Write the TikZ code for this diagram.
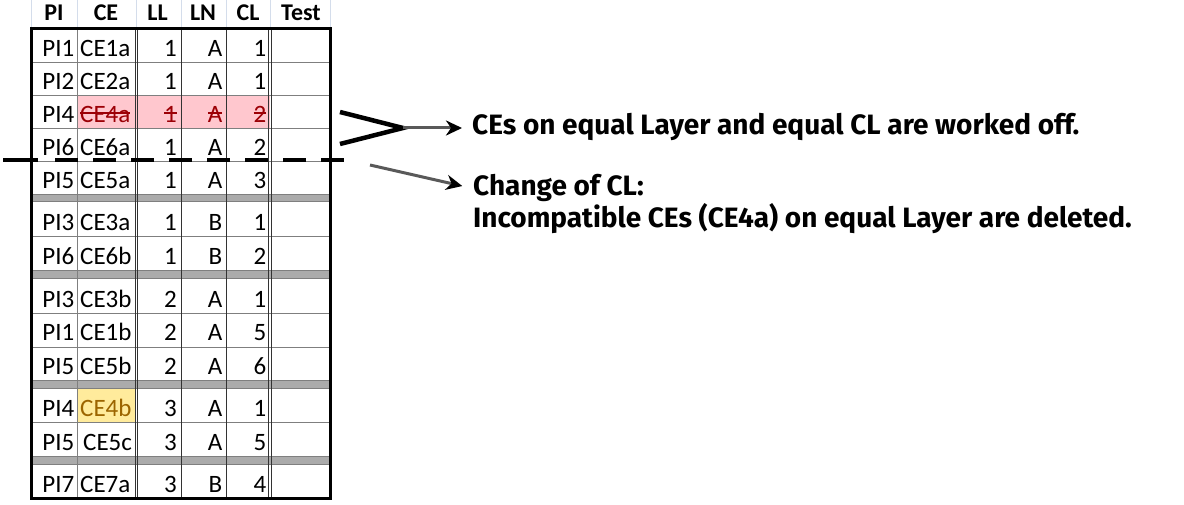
\documentclass[tikz,border=0pt]{standalone}
\usepackage{fontspec}
\setmainfont{Carlito}
\newfontfamily\notefont{Fira Sans}
\usetikzlibrary{arrows.meta}

\definecolor{badfill}{HTML}{FFC7CE}
\definecolor{badtext}{HTML}{9C0006}
\definecolor{neutfill}{HTML}{FFEB9C}
\definecolor{neuttext}{HTML}{9C6500}
\definecolor{neutline}{HTML}{F2C14E}
\definecolor{hdrline}{HTML}{D4DDEB}
\definecolor{gridgray}{HTML}{7F7F7F}
\definecolor{sepgray}{HTML}{ABABAB}

% struck-through cell text
\newcommand\strk[1]{\setbox0\hbox{#1}\rlap{\rule[0.36em]{\wd0}{1.5pt}}\box0}

\tikzset{
  cell/.style={inner sep=0pt, anchor=base east, font=\fontsize{25}{25}\selectfont},
  cellw/.style={cell, anchor=base west},
  head/.style={inner sep=0pt, anchor=base, font=\fontsize{24}{24}\selectfont\bfseries},
  note/.style={inner sep=0pt, anchor=base west, font=\notefont\fontsize{28}{28}\selectfont\bfseries},
  sepband/.style={fill=sepgray, draw=gridgray, line width=1pt},
  pointer/.style={line width=3pt, draw=black!65, -{Stealth[length=16pt, width=15pt, inset=5pt, black]}},
}

\begin{document}
\begin{tikzpicture}[x=1pt, y=-1pt]
  \useasboundingbox (0,0) rectangle (1184,505);

  % header
  \foreach \x in {31,77,136,181,226,270,330}
    \draw[hdrline, line width=1pt] (\x,0) -- (\x,29);
  \foreach \x/\t/\n in {54/PI/hpi, 106/CE/hce, 157.5/LL/hll, 203/LN/hln, 248/CL/hcl, 301/Test/htest}
    \node[head] (\n) at (\x,20.5) {\t};

  % highlighted cells
  \fill[badfill] (77,96) rectangle (270,129);
  \filldraw[fill=neutfill, draw=neutline, line width=1pt] (77,388) rectangle (135.5,422);

  % grid
  \foreach \y in {63,96,129,162,237,313,347,422}
    \draw[gridgray, line width=1pt] (31,\y) -- (330,\y);
  \foreach \a/\b in {195/202, 271/279, 380/388, 456/464}
    \draw[sepband] (31,\a) rectangle (330,\b);
  \draw[gridgray, line width=1pt] (77,29) -- (77,498);
  \foreach \x in {135,137.5,181,226,268.5,271}
    \draw[black!80, line width=0.8pt] (\x,29) -- (\x,498);
  \draw[line width=3pt] (31,29) rectangle (330,498);

  % rows: bottom / PI / CE / LL / LN / CL
  \foreach \b/\p/\c/\l/\m/\k [count=\i] in {
      63/PI1/CE1a/1/A/1,
      96/PI2/CE2a/1/A/1,
      129/PI4/{\color{badtext}\strk{CE4a}}/{\color{badtext}\strk{1}}/{\color{badtext}\strk{A}}/{\color{badtext}\strk{2}},
      162/PI6/CE6a/1/A/2,
      195/PI5/CE5a/1/A/3,
      237/PI3/CE3a/1/B/1,
      271/PI6/CE6b/1/B/2,
      313/PI3/CE3b/2/A/1,
      347/PI1/CE1b/2/A/5,
      380/PI5/CE5b/2/A/6,
      422/PI4/{\color{neuttext}CE4b}/3/A/1,
      456/PI5/{\kern3pt CE5c}/3/A/5,
      498/PI7/CE7a/3/B/4} {
    \node[cell]  (pi\i) at (74.5,\b-6) {\p};
    \node[cellw] (ce\i) at (80,\b-6) {\c};
    \node[cell]  (ll\i) at (177,\b-6) {\l};
    \node[cell]  (ln\i) at (222.5,\b-6) {\m};
    \node[cell]  (cl\i) at (266.5,\b-6) {\k};
  }

  % cut line
  \draw[line width=4.5pt, dash pattern=on 35pt off 17pt on 23pt off 15pt on 23pt off 15pt on 23pt off 15pt on 23pt off 15pt on 23pt off 15pt on 23pt off 15pt on 23pt off 15pt on 23pt off 15pt]
    (3,160) -- (358,160);

  % notes
  \draw[line width=4.5pt] (340,112) -- (403,128) -- (340,144);
  \coordinate (chev) at (403,128);
  \coordinate (cut) at (370,165);
  \node[note] (t1) at (472,135) {CEs on equal Layer and equal CL are worked off.};
  \node[note] (t2) at (473,196) {Change of CL:};
  \node[note] (t3) at (473,228) {Incompatible CEs (CE4a) on equal Layer are deleted.};

  \draw[pointer, shorten >=10pt] (chev) -- (chev -| t1.west);
  \draw[pointer, shorten >=11pt] (cut) -- (t2.west);
\end{tikzpicture}
\end{document}
